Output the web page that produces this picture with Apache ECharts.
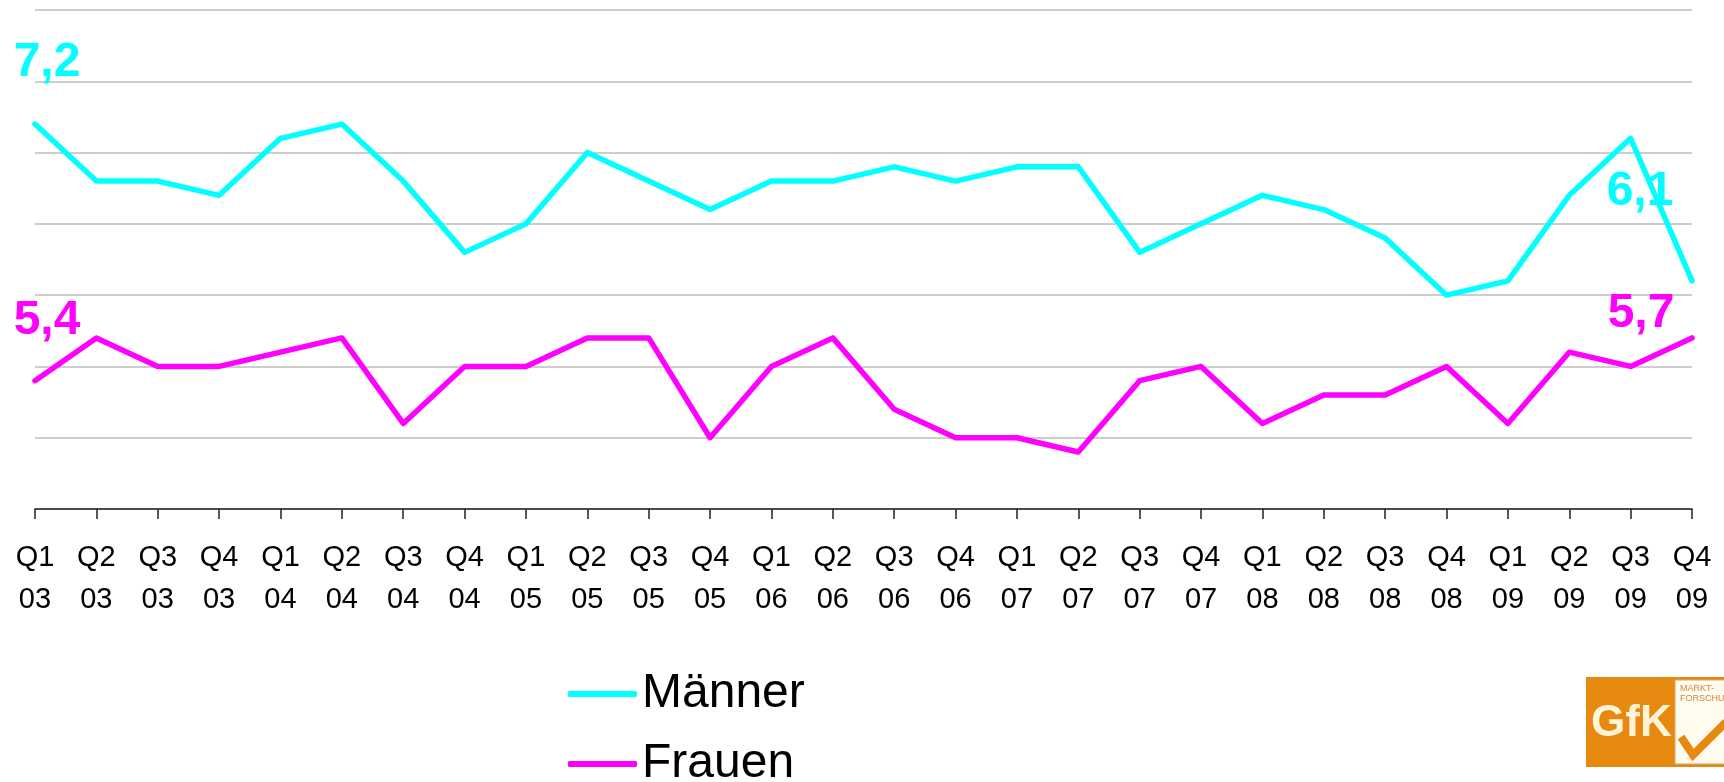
<!DOCTYPE html>
<html>
<head>
<meta charset="utf-8">
<script src="https://cdn.jsdelivr.net/npm/echarts@6.0.0/dist/echarts.min.js"></script>
<style>
  html, body { margin: 0; padding: 0; background: #ffffff; }
  #chart { width: 1724px; height: 782px; }
</style>
</head>
<body>
<div id="chart"></div>
<script>
// Quarterly values 2003–2009
const categories = [
  'Q1 03', 'Q2 03', 'Q3 03', 'Q4 03',
  'Q1 04', 'Q2 04', 'Q3 04', 'Q4 04',
  'Q1 05', 'Q2 05', 'Q3 05', 'Q4 05',
  'Q1 06', 'Q2 06', 'Q3 06', 'Q4 06',
  'Q1 07', 'Q2 07', 'Q3 07', 'Q4 07',
  'Q1 08', 'Q2 08', 'Q3 08', 'Q4 08',
  'Q1 09', 'Q2 09', 'Q3 09', 'Q4 09'
];
const maenner = [
  7.2, 6.8, 6.8, 6.7,
  7.1, 7.2, 6.8, 6.3,
  6.5, 7.0, 6.8, 6.6,
  6.8, 6.8, 6.9, 6.8,
  6.9, 6.9, 6.3, 6.5,
  6.7, 6.6, 6.4, 6.0,
  6.1, 6.7, 7.1, 6.1
];
const frauen = [
  5.4, 5.7, 5.5, 5.5,
  5.6, 5.7, 5.1, 5.5,
  5.5, 5.7, 5.7, 5.0,
  5.5, 5.7, 5.2, 5.0,
  5.0, 4.9, 5.4, 5.5,
  5.1, 5.3, 5.3, 5.5,
  5.1, 5.6, 5.5, 5.7
];
const seriesNames = ['Männer', 'Frauen'];
const seriesColors = ['#00FFFF', '#FF00FF'];

const FONT = "'Liberation Sans', Arial, Helvetica, sans-serif";

// Value labels only on the first and last quarter; offsets keep them clear of the lines
function withEndLabels(values, color, firstOffset, lastOffset) {
  const last = values.length - 1;
  return values.map((v, i) => {
    if (i !== 0 && i !== last) return v;
    return {
      value: v,
      label: {
        show: true,
        position: 'inside',
        offset: i === 0 ? firstOffset : lastOffset,
        formatter: p => String(p.value).replace('.', ','),
        color: color,
        fontFamily: FONT,
        fontWeight: 'bold',
        fontSize: 48
      }
    };
  });
}

const chart = echarts.init(document.getElementById('chart'), null, { renderer: 'canvas' });

function lineSeries(name, values, color, firstOffset, lastOffset) {
  return {
    name: name,
    type: 'line',
    data: withEndLabels(values, color, firstOffset, lastOffset),
    showSymbol: true,
    symbol: 'circle',
    symbolSize: 2,
    itemStyle: { color: color },
    lineStyle: { color: color, width: 5.5, cap: 'round', join: 'round' },
    emphasis: { disabled: true },
    animation: false,
    z: 3
  };
}

chart.setOption({
  backgroundColor: '#ffffff',
  animation: false,
  grid: { left: 35, right: 32, top: 10, bottom: 273, containLabel: false },
  xAxis: {
    type: 'category',
    data: categories,
    boundaryGap: false,
    axisLine: { show: true, lineStyle: { color: '#222222', width: 1.5 } },
    axisTick: { show: true, length: 10, lineStyle: { color: '#222222', width: 1.5 } },
    axisLabel: {
      interval: 0,
      margin: 28,
      color: '#000000',
      fontFamily: FONT,
      fontSize: 29,
      lineHeight: 42,
      formatter: v => v.replace(' ', '\n')
    },
    splitLine: { show: false }
  },
  yAxis: {
    type: 'value',
    min: 4.5,
    max: 8,
    interval: 0.5,
    axisLine: { show: false },
    axisTick: { show: false },
    axisLabel: { show: false },
    splitLine: { show: true, lineStyle: { color: '#bdbdbd', width: 1.5 } }
  },
  legend: {
    orient: 'vertical',
    left: 563,
    top: 665,
    width: 400,
    height: 200,
    itemGap: 22,
    itemWidth: 69,
    itemHeight: 6,
    icon: 'roundRect',
    selectedMode: false,
    textStyle: { color: '#000000', fontFamily: FONT, fontSize: 48 },
    data: seriesNames
  },
  series: [
    lineSeries(seriesNames[0], maenner, seriesColors[0], [12, -61], [-52, -89]),
    lineSeries(seriesNames[1], frauen, seriesColors[1], [12, -60], [-51, -24])
  ],
  graphic: [
    // GfK Marktforschung badge, bottom right
    { type: 'rect', shape: { x: 1586, y: 677, width: 138, height: 90 }, style: { fill: '#E8890F' }, silent: true },
    { type: 'rect', shape: { x: 1675, y: 680, width: 60, height: 84 }, style: { fill: '#FFFBEF', stroke: '#D9A86A', lineWidth: 1 }, silent: true },
    { type: 'text', x: 1591, y: 724, style: { text: 'GfK', fill: '#FFF4D6', font: "bold 44px 'Liberation Sans', Arial, sans-serif", textVerticalAlign: 'middle' }, silent: true },
    { type: 'text', x: 1680, y: 684, style: { text: 'MARKT-\nFORSCHUNG', fill: '#C98A45', font: "9px 'Liberation Sans', Arial, sans-serif", lineHeight: 10 }, silent: true },
    { type: 'polyline', shape: { points: [[1681, 737], [1693, 755], [1726, 722]] }, style: { stroke: '#E8890F', lineWidth: 8, fill: null }, silent: true }
  ]
});
</script>
</body>
</html>
